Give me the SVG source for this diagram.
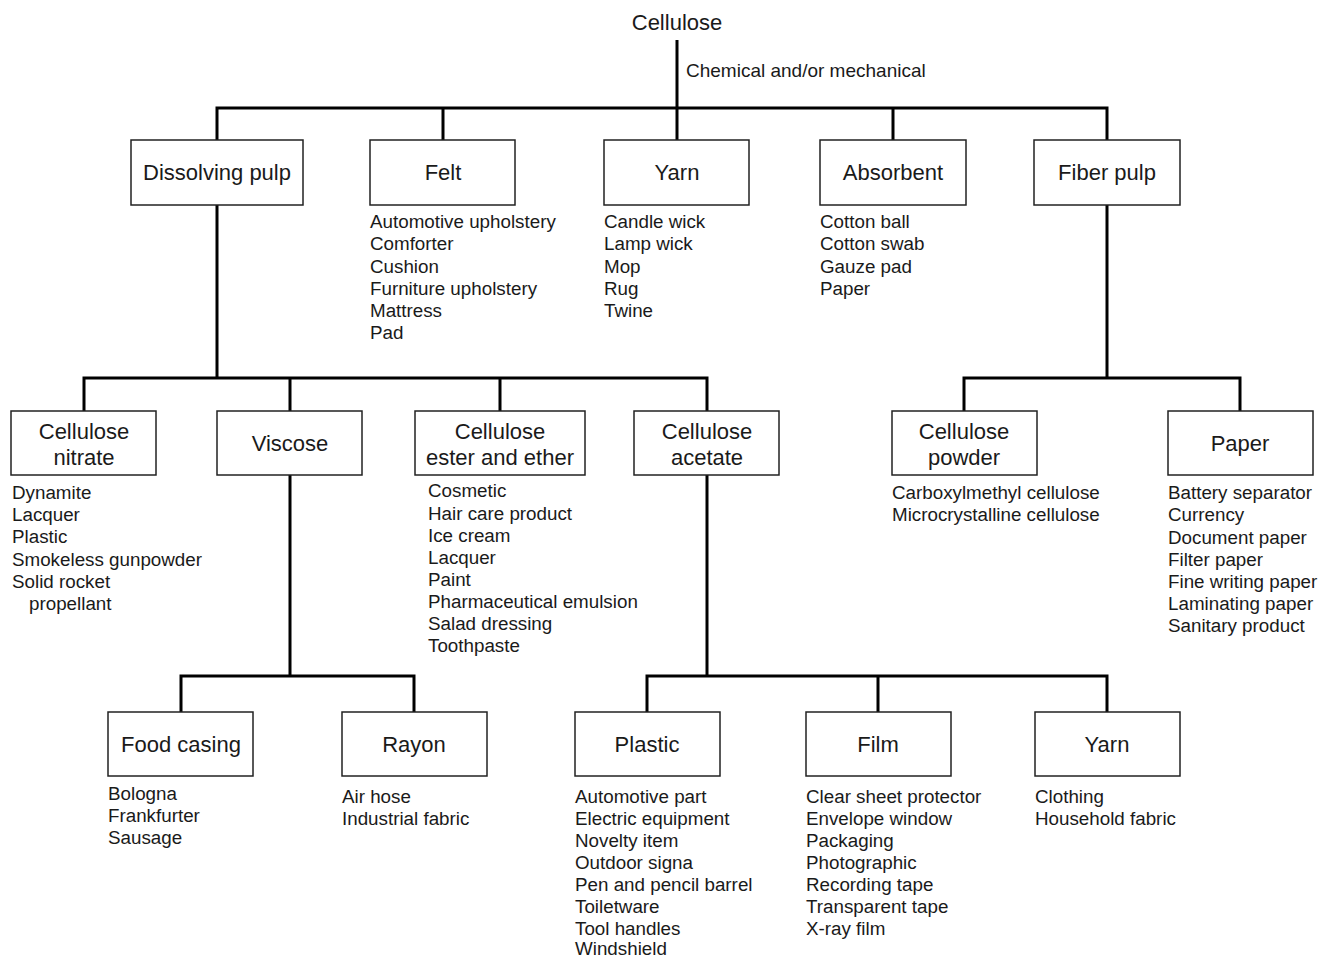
<svg xmlns="http://www.w3.org/2000/svg" width="1322" height="958" viewBox="0 0 1322 958">
<style>
text{font-family:"Liberation Sans",Arial,sans-serif;fill:#1a1a1a}
.t{font-size:22px;text-anchor:middle}
.l{font-size:18.8px}
.box{fill:#fff;stroke:#222;stroke-width:1.5}
.c{fill:none;stroke:#000;stroke-width:3}
</style>
<rect width="1322" height="958" fill="#fff"/>
<g id="connectors">
<path class="c" d="M677 40V108M217 140V108H1107V140M443 108V140M677 108V140M893 108V140"/>
<path class="c" d="M217 205V378M84 411V378H707V411M290 378V411M500 378V411"/>
<path class="c" d="M1107 205V378M964 411V378H1240V411"/>
<path class="c" d="M290 475V676M181 712V676H414V712"/>
<path class="c" d="M707 475V676M647 712V676H1107V712M878 676V712"/>
</g>
<g id="root"><text class="t" x="677" y="30">Cellulose</text><text class="l" x="686" y="77" style="font-size:19px">Chemical and/or mechanical</text></g>
<g id="dissolving-pulp"><rect class="box" x="131" y="140" width="172" height="65"/><text class="t" x="217" y="180">Dissolving pulp</text></g>
<g id="felt"><rect class="box" x="370" y="140" width="145" height="65"/><text class="t" x="443" y="180">Felt</text>
<text class="l" x="370" y="228">Automotive upholstery</text><text class="l" x="370" y="250">Comforter</text><text class="l" x="370" y="273">Cushion</text><text class="l" x="370" y="295">Furniture upholstery</text><text class="l" x="370" y="317">Mattress</text><text class="l" x="370" y="339">Pad</text></g>
<g id="yarn-top"><rect class="box" x="604" y="140" width="145" height="65"/><text class="t" x="677" y="180">Yarn</text>
<text class="l" x="604" y="228">Candle wick</text><text class="l" x="604" y="250">Lamp wick</text><text class="l" x="604" y="273">Mop</text><text class="l" x="604" y="295">Rug</text><text class="l" x="604" y="317">Twine</text></g>
<g id="absorbent"><rect class="box" x="820" y="140" width="146" height="65"/><text class="t" x="893" y="180">Absorbent</text>
<text class="l" x="820" y="228">Cotton ball</text><text class="l" x="820" y="250">Cotton swab</text><text class="l" x="820" y="273">Gauze pad</text><text class="l" x="820" y="295">Paper</text></g>
<g id="fiber-pulp"><rect class="box" x="1034" y="140" width="146" height="65"/><text class="t" x="1107" y="180">Fiber pulp</text></g>
<g id="cellulose-nitrate"><rect class="box" x="11" y="411" width="145" height="64"/><text class="t" x="84" y="439">Cellulose</text><text class="t" x="84" y="465">nitrate</text>
<text class="l" x="12" y="499">Dynamite</text><text class="l" x="12" y="521">Lacquer</text><text class="l" x="12" y="543">Plastic</text><text class="l" x="12" y="566">Smokeless gunpowder</text><text class="l" x="12" y="588">Solid rocket</text><text class="l" x="29" y="610">propellant</text></g>
<g id="viscose"><rect class="box" x="217" y="411" width="145" height="64"/><text class="t" x="290" y="451">Viscose</text></g>
<g id="cellulose-ester-ether"><rect class="box" x="415" y="411" width="170" height="64"/><text class="t" x="500" y="439">Cellulose</text><text class="t" x="500" y="465">ester and ether</text>
<text class="l" x="428" y="497">Cosmetic</text><text class="l" x="428" y="520">Hair care product</text><text class="l" x="428" y="542">Ice cream</text><text class="l" x="428" y="564">Lacquer</text><text class="l" x="428" y="586">Paint</text><text class="l" x="428" y="608">Pharmaceutical emulsion</text><text class="l" x="428" y="630">Salad dressing</text><text class="l" x="428" y="652">Toothpaste</text></g>
<g id="cellulose-acetate"><rect class="box" x="634" y="411" width="145" height="64"/><text class="t" x="707" y="439">Cellulose</text><text class="t" x="707" y="465">acetate</text></g>
<g id="cellulose-powder"><rect class="box" x="892" y="411" width="145" height="64"/><text class="t" x="964" y="439">Cellulose</text><text class="t" x="964" y="465">powder</text>
<text class="l" x="892" y="499">Carboxylmethyl cellulose</text><text class="l" x="892" y="521">Microcrystalline cellulose</text></g>
<g id="paper"><rect class="box" x="1168" y="411" width="145" height="64"/><text class="t" x="1240" y="451">Paper</text>
<text class="l" x="1168" y="499">Battery separator</text><text class="l" x="1168" y="521">Currency</text><text class="l" x="1168" y="544">Document paper</text><text class="l" x="1168" y="566">Filter paper</text><text class="l" x="1168" y="588">Fine writing paper</text><text class="l" x="1168" y="610">Laminating paper</text><text class="l" x="1168" y="632">Sanitary product</text></g>
<g id="food-casing"><rect class="box" x="108" y="712" width="145" height="64"/><text class="t" x="181" y="752">Food casing</text>
<text class="l" x="108" y="800">Bologna</text><text class="l" x="108" y="822">Frankfurter</text><text class="l" x="108" y="844">Sausage</text></g>
<g id="rayon"><rect class="box" x="342" y="712" width="145" height="64"/><text class="t" x="414" y="752">Rayon</text>
<text class="l" x="342" y="803">Air hose</text><text class="l" x="342" y="825">Industrial fabric</text></g>
<g id="plastic"><rect class="box" x="575" y="712" width="145" height="64"/><text class="t" x="647" y="752">Plastic</text>
<text class="l" x="575" y="803">Automotive part</text><text class="l" x="575" y="825">Electric equipment</text><text class="l" x="575" y="847">Novelty item</text><text class="l" x="575" y="869">Outdoor signa</text><text class="l" x="575" y="891">Pen and pencil barrel</text><text class="l" x="575" y="913">Toiletware</text><text class="l" x="575" y="935">Tool handles</text><text class="l" x="575" y="955">Windshield</text></g>
<g id="film"><rect class="box" x="806" y="712" width="145" height="64"/><text class="t" x="878" y="752">Film</text>
<text class="l" x="806" y="803">Clear sheet protector</text><text class="l" x="806" y="825">Envelope window</text><text class="l" x="806" y="847">Packaging</text><text class="l" x="806" y="869">Photographic</text><text class="l" x="806" y="891">Recording tape</text><text class="l" x="806" y="913">Transparent tape</text><text class="l" x="806" y="935">X-ray film</text></g>
<g id="yarn-bottom"><rect class="box" x="1035" y="712" width="145" height="64"/><text class="t" x="1107" y="752">Yarn</text>
<text class="l" x="1035" y="803">Clothing</text><text class="l" x="1035" y="825">Household fabric</text></g>
</svg>
